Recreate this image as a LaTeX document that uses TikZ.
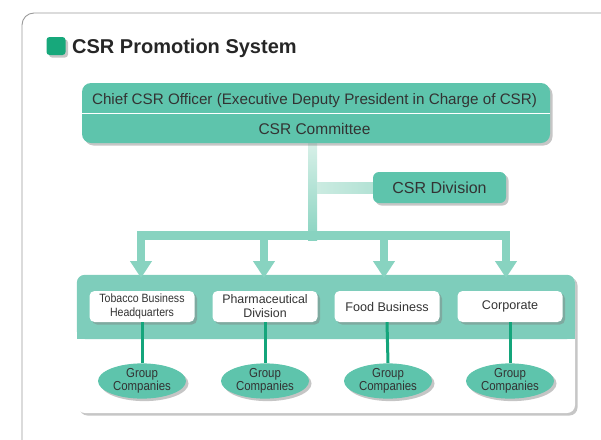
\documentclass[tikz,border=0pt]{standalone}
\usepackage{fontspec}
\setmainfont{Liberation Sans}
\newfontfamily\condfont{Liberation Sans}[FakeStretch=0.88]
\usetikzlibrary{shadows,arrows.meta,shapes.geometric,calc}
\definecolor{tealA}{HTML}{5EC4AC}
\definecolor{bandC}{HTML}{7ECDBB}
\definecolor{arrC}{HTML}{88D3C0}
\definecolor{paleC}{HTML}{D8F0E8}
\definecolor{brA}{HTML}{CBEBE1}
\definecolor{brB}{HTML}{B3E2D5}
\definecolor{lineC}{HTML}{14A57B}
\definecolor{sqC}{HTML}{17A87B}
\definecolor{txtC}{HTML}{333333}
\definecolor{frameC}{HTML}{9A9A9A}
\begin{document}
\begin{tikzpicture}[x=1pt,y=-1pt,
  shad/.style={drop shadow={opacity=0.45,shadow xshift=2.5pt,shadow yshift=-2.5pt}},
  tealbox/.style={rectangle,rounded corners=9pt,fill=tealA,shad,inner sep=0pt,text=txtC},
  whitebox/.style={rectangle,rounded corners=5pt,fill=white,shad,minimum width=105pt,
    minimum height=31pt,inner sep=0pt,align=center,text=txtC,font=\fontsize{12.6}{13.5}\selectfont},
  grp/.style={ellipse,fill=tealA,shad,minimum width=88pt,minimum height=31pt,inner sep=0pt,
    align=center,text=txtC,font=\condfont\fontsize{13}{10.6}\selectfont},
  tie/.style={draw=lineC,line width=3pt},
  downarrow/.style={draw=arrC,line width=8pt,-{Triangle[width=21pt,length=17pt]}}
]
\useasboundingbox (0,0) rectangle (601,439);
% outer frame
\draw[frameC,line width=0.9pt,rounded corners=12pt] (22,13) rectangle (660,490);
% title
\node[rectangle,rounded corners=3pt,fill=sqC,shad,minimum width=19pt,minimum height=18pt,inner sep=0pt] (sq) at (56,46) {};
\node[anchor=base west,inner sep=0pt,font=\bfseries\fontsize{20}{20}\selectfont,text=black!85] (title) at (72,53) {CSR Promotion System};

% trunk (drawn first, box over it)
\shade[top color=paleC,bottom color=arrC] (308,143) rectangle (317,240);
% top box
\node[tealbox,minimum width=468pt,minimum height=60pt] (top) at (316,113) {};
\draw[white,line width=1pt] (top.west) -- (top.east);
\node[anchor=base,inner sep=0pt,text=txtC,font=\fontsize{15.2}{16}\selectfont] (chief) at (314.5,104) {Chief CSR Officer (Executive Deputy President in Charge of CSR)};
\node[anchor=base,inner sep=0pt,text=txtC,font=\fontsize{15.5}{16}\selectfont] (comm) at (314.5,134) {CSR Committee};

% CSR division
\node[tealbox,rounded corners=6pt,minimum width=133pt,minimum height=31pt,font=\fontsize{16}{16}\selectfont] (div) at (439.5,187.5) {CSR Division};
\shade[left color=brA,right color=brB] (317,182) rectangle (div.west |- 0,193);

% horizontal distribution bar
\fill[arrC] (137,231) rectangle (510,240);

% panel
\node[rectangle,rounded corners=8pt,fill=white,shad,minimum width=498pt,minimum height=138pt,inner sep=0pt] (panel) at (326,344) {};
\fill[bandC,rounded corners=8pt] (panel.north west) rectangle (575,339);
\fill[bandC] (77,325) rectangle (575,339);

% unit boxes
\node[whitebox,font=\condfont\fontsize{12}{14}\selectfont] (tb) at (142,306.5) {Tobacco Business\\Headquarters};
\node[whitebox,font=\fontsize{12.4}{14}\selectfont] (ph) at (265,306.5) {Pharmaceutical\\Division};
\node[whitebox] (fb) at (387,306.5) {Food Business};
\node[whitebox] (co) at (510,306.5) {Corporate};

% arrows
\foreach \ax in {141,264,384,506}{
  \draw[downarrow] (\ax,231) -- (\ax,278);
}

% group companies
\node[grp] (g1) at (142,381) {Group\\Companies};
\node[grp] (g2) at (265,381) {Group\\Companies};
\node[grp] (g3) at (388,381) {Group\\Companies};
\node[grp] (g4) at (510,381) {Group\\Companies};
\draw[tie] (tb.south) -- (g1.north);
\draw[tie] (ph.south) -- (g2.north);
\draw[tie] (fb.south) -- (g3.north);
\draw[tie] (co.south) -- (g4.north);
\end{tikzpicture}
\end{document}
